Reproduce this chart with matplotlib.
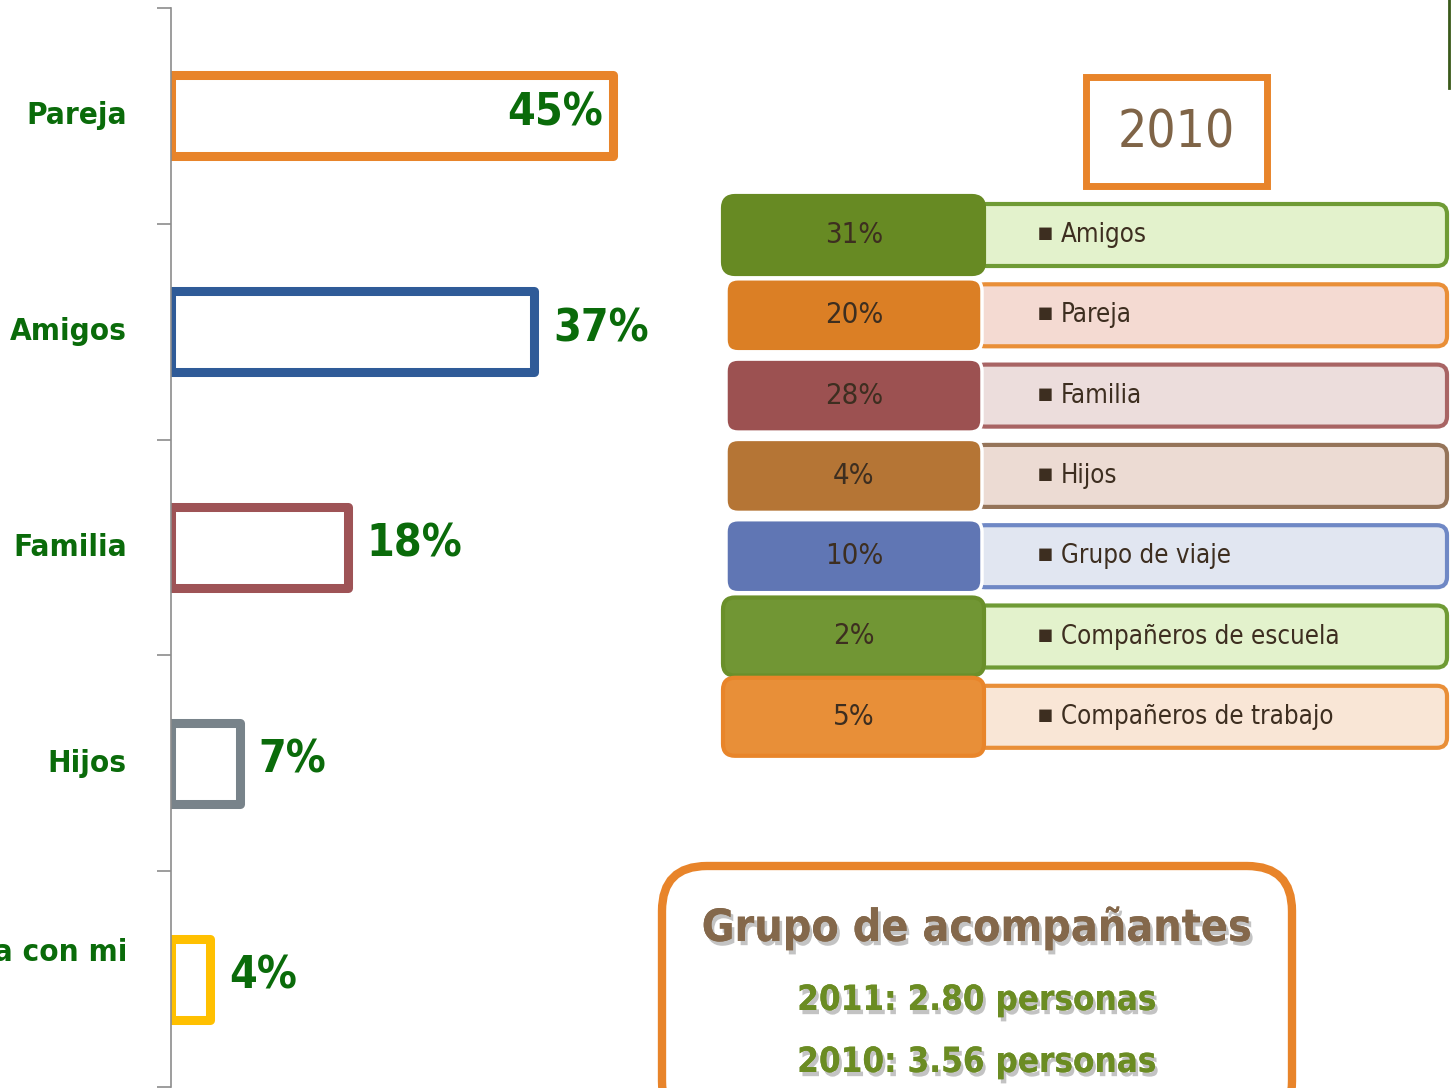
import matplotlib
matplotlib.use("Agg")
import matplotlib.pyplot as plt
import matplotlib.patheffects as pe
from matplotlib.patches import FancyBboxPatch, Rectangle
import numpy as np

# bar chart data (2011)
categories = ["Pareja", "Amigos", "Familia", "Hijos", "Viaja con mi"]
values = [45, 37, 18, 7, 4]
bar_colors = ["#e8842a", "#2f5b98", "#9e5356", "#78838a", "#ffc000"]

# 2010 table
year_label = "2010"
table_pcts = ["31%", "20%", "28%", "4%", "10%", "2%", "5%"]
table_names = ["Amigos", "Pareja", "Familia", "Hijos", "Grupo de viaje",
               "Compañeros de escuela", "Compañeros de trabajo"]
left_fill = ["#678a23", "#db7f25", "#9c5151", "#b57535", "#6076b4", "#719634", "#e88f38"]
left_edge = ["#678a23", "white", "white", "white", "white", "#6a8f2a", "#e8852a"]
right_fill = ["#e3f2cc", "#f4dad2", "#ecdddc", "#ecdbd3", "#e1e6f1", "#e3f2cc", "#f9e6d6"]
right_edge = ["#6f9b35", "#e98f38", "#a86464", "#957459", "#6f88c5", "#6f9b35", "#e98f38"]

summary_title = "Grupo de acompañantes"
summary_lines = ["2011: 2.80 personas", "2010: 3.56 personas"]

GREEN = "#0a6b0a"
BROWN = "#3d2e20"
COND = dict(family="DejaVu Sans", fontstretch="condensed")

W, H = 1451, 1088
fig = plt.figure(figsize=(W / 100, H / 100), dpi=100)

# ---- left bar chart ----
ax = fig.add_axes([171 / W, 1 - 1087 / H, 982 / W, 1079 / H])
ax.patch.set_visible(False)
y = np.arange(len(categories))
ax.barh(y, values, height=0.375, color="white", edgecolor=bar_colors,
        linewidth=6.5, joinstyle="round")
ax.set_xlim(0, 100)
ax.set_ylim(len(categories) - 0.5, -0.5)
for s in ["top", "right", "bottom"]:
    ax.spines[s].set_visible(False)
ax.spines["left"].set_color("#8c8c8c")
ax.spines["left"].set_linewidth(1.2)
ax.set_xticks([])
ax.set_yticks(np.arange(-0.5, len(categories), 1))
ax.set_yticklabels([])
ax.tick_params(axis="y", length=10, width=1.2, color="#8c8c8c")

for i, (cat, v) in enumerate(zip(categories, values)):
    dy = 27 if i == len(categories) - 1 else 0
    ax.annotate(cat, xy=(0, i), xytext=(-44, dy), textcoords="offset pixels",
                ha="right", va="center", color=GREEN, fontsize=22.5,
                fontweight="bold", annotation_clip=False, **COND)
    if v == max(values):
        ax.annotate(f"{v}%", xy=(v, i), xytext=(-10, 3), textcoords="offset pixels",
                    ha="right", va="center", color=GREEN, fontsize=32,
                    fontweight="bold", **COND)
    else:
        ax.annotate(f"{v}%", xy=(v, i), xytext=(19, 3), textcoords="offset pixels",
                    ha="left", va="center", color=GREEN, fontsize=32,
                    fontweight="bold", **COND)

# ---- overlay in pixel coordinates ----
ov = fig.add_axes([0, 0, 1, 1])
ov.set_xlim(0, W)
ov.set_ylim(H, 0)
ov.axis("off")
ov.patch.set_visible(False)

# year box
ov.add_patch(Rectangle((1085.5, 76.5), 181, 109, fill=False, edgecolor="#e8842a", lw=5))
ov.text(1176, 133, year_label, ha="center", va="center", fontsize=37,
        color="#7f6447", **COND)

# table rows
row0, step = 235, 80.3
for i in range(len(table_pcts)):
    cy = row0 + i * step
    ov.add_patch(FancyBboxPatch((975, cy - 31), 472, 62,
                                boxstyle="round,pad=0,rounding_size=10",
                                facecolor=right_fill[i], edgecolor=right_edge[i], lw=3))
    big = left_edge[i] != "white"
    hh = 78 if big else 73
    x0 = 723 if big else 726
    ww = 261 if big else 256
    ov.add_patch(FancyBboxPatch((x0, cy - hh / 2), ww, hh,
                                boxstyle="round,pad=0,rounding_size=12",
                                facecolor=left_fill[i], edgecolor=left_edge[i],
                                lw=3 if big else 2.5))
    ov.text(854, cy, table_pcts[i], ha="center", va="center", fontsize=21,
            color=BROWN, **COND)
    ov.text(1045, cy - 2, "\u25aa", ha="center", va="center", fontsize=18, color=BROWN)
    ov.text(1061, cy, table_names[i], ha="left", va="center", fontsize=18.5,
            color=BROWN, **COND)

# summary box
ov.add_patch(FancyBboxPatch((662, 866), 630, 260,
                            boxstyle="round,pad=0,rounding_size=45",
                            facecolor="white", edgecolor="#e8842a", lw=6))
shadow = [pe.withSimplePatchShadow(offset=(2, -3), shadow_rgbFace="#888888", alpha=0.5),
          pe.Normal()]
ov.text(977, 928, summary_title, ha="center", va="center", fontsize=32,
        fontweight="bold", color="#84684b", path_effects=shadow, **COND)
ov.text(977, 1000, summary_lines[0], ha="center", va="center", fontsize=25,
        fontweight="bold", color="#6b8c23", path_effects=shadow, **COND)
ov.text(977, 1062, summary_lines[1], ha="center", va="center", fontsize=25,
        fontweight="bold", color="#6b8c23", path_effects=shadow, **COND)

# edge of a cropped shape at the top right
ov.plot([1449, 1449], [0, 88], color="#3a5a1a", lw=2)

fig.savefig("out.png", dpi=100)
